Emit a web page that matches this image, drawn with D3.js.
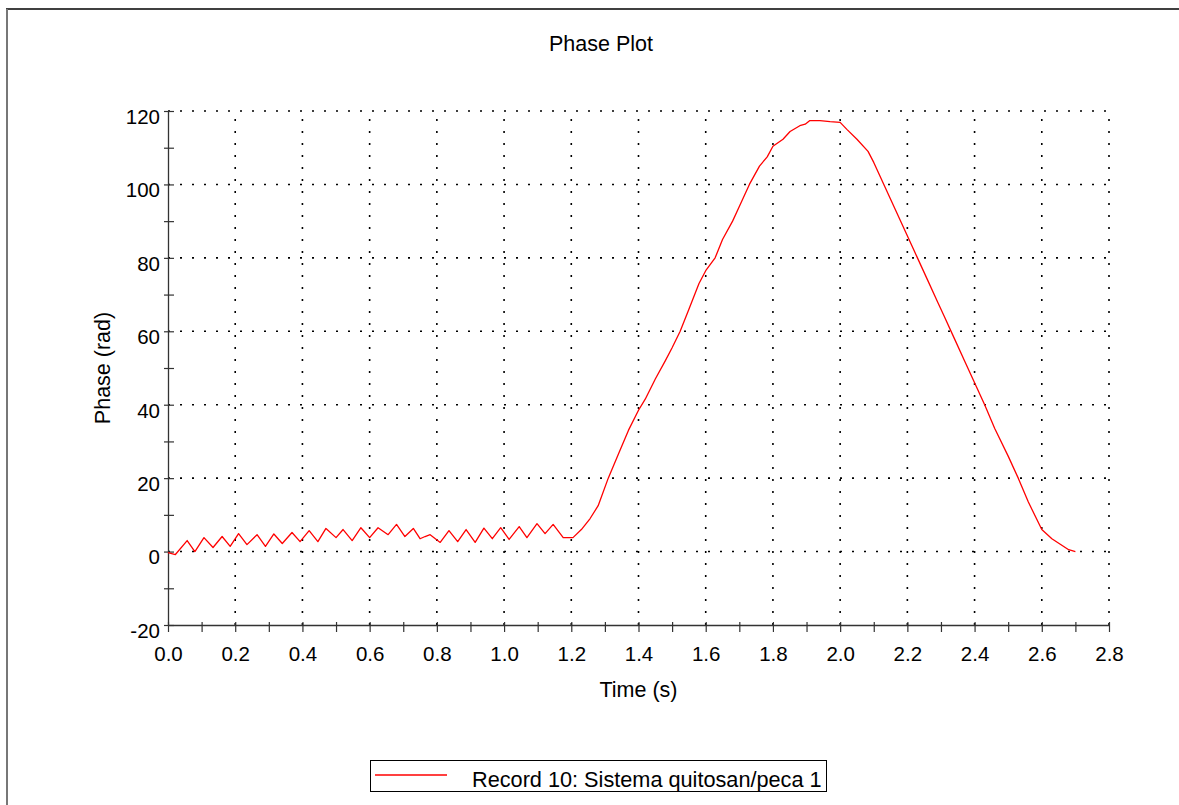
<!DOCTYPE html>
<html>
<head>
<meta charset="utf-8">
<script src="https://cdn.jsdelivr.net/npm/d3@7/dist/d3.min.js"></script>
<style>
  html, body { margin: 0; padding: 0; background: #fff; }
  svg { display: block; font-family: "Liberation Sans", Arial, sans-serif; }
</style>
</head>
<body>
<svg id="chart" width="1179" height="805"></svg>
<script>
// Phase record: time (s) and phase (rad)
const timeS = [
  0.000, 0.022, 0.057, 0.080, 0.107, 0.134, 0.161, 0.185, 0.210, 0.235,
  0.265, 0.290, 0.315, 0.340, 0.369, 0.393, 0.420, 0.446, 0.470, 0.500,
  0.521, 0.548, 0.574, 0.600, 0.625, 0.655, 0.680, 0.705, 0.730, 0.750,
  0.765, 0.780, 0.810, 0.836, 0.862, 0.887, 0.914, 0.940, 0.965, 0.990,
  1.015, 1.045, 1.068, 1.098, 1.122, 1.146, 1.176, 1.205, 1.230, 1.256,
  1.280, 1.310, 1.340, 1.370, 1.400, 1.420, 1.450, 1.480, 1.500, 1.524,
  1.550, 1.580, 1.600, 1.628, 1.650, 1.680, 1.700, 1.730, 1.760, 1.783,
  1.800, 1.830, 1.851, 1.880, 1.896, 1.910, 1.940, 1.970, 2.000, 2.020,
  2.050, 2.083, 2.100, 2.130, 2.160, 2.190, 2.230, 2.260, 2.290, 2.310,
  2.340, 2.370, 2.400, 2.430, 2.460, 2.500, 2.530, 2.560, 2.600, 2.630,
  2.655, 2.680, 2.700
];
const phaseRad = [
  -0.3, -0.8, 3.0, 0.0, 3.8, 1.1, 4.1, 1.4, 4.9, 1.9,
  4.6, 1.4, 4.8, 2.2, 5.2, 2.7, 5.7, 2.7, 6.3, 3.8,
  6.0, 3.0, 6.5, 3.8, 6.5, 4.6, 7.4, 4.1, 6.3, 3.5,
  4.1, 4.6, 2.5, 5.7, 2.7, 6.0, 2.5, 6.4, 3.5, 6.5,
  3.3, 6.8, 3.8, 7.6, 4.9, 7.4, 3.8, 3.8, 6.0, 9.0,
  12.5, 20.0, 26.5, 33.0, 38.5, 41.5, 47.0, 52.0, 55.5, 60.0,
  66.0, 73.0, 76.5, 80.0, 85.0, 90.0, 94.0, 100.0, 105.0, 107.5,
  110.4, 112.3, 114.4, 116.0, 116.4, 117.4, 117.4, 117.1, 116.9, 115.0,
  112.3, 109.0, 106.0, 100.0, 94.0, 88.0, 80.0, 74.0, 68.0, 64.0,
  58.0, 52.0, 46.0, 40.0, 33.5, 26.0, 20.0, 13.5, 6.0, 3.5,
  2.0, 0.5, 0.0
];

const xMajorTicks = [0.0, 0.2, 0.4, 0.6, 0.8, 1.0, 1.2, 1.4, 1.6, 1.8, 2.0, 2.2, 2.4, 2.6, 2.8];
const xMinorTicks = [0.1, 0.3, 0.5, 0.7, 0.9, 1.1, 1.3, 1.5, 1.7, 1.9, 2.1, 2.3, 2.5, 2.7];
const yMajorTicks = [-20, 0, 20, 40, 60, 80, 100, 120];
const yMinorTicks = [-10, 10, 30, 50, 70, 90, 110];

const titleText = "Phase Plot";
const xLabel = "Time (s)";
const yLabel = "Phase (rad)";
const legendLabel = "Record 10: Sistema quitosan/peca 1";

const svg = d3.select("#chart");
const W = 1179, H = 805;
const plot = { left: 168, right: 1109, top: 111, bottom: 625 };
const FONT = "Liberation Sans, Arial, sans-serif";

const x = d3.scaleLinear().domain([0, 2.8]).range([plot.left, plot.right]);
const y = d3.scaleLinear().domain([-20, 120]).range([plot.bottom, plot.top]);

// figure frame
svg.append("line").attr("x1", 6).attr("x2", W).attr("y1", 9).attr("y2", 9)
  .attr("stroke", "#000").attr("stroke-width", 1.5);
svg.append("line").attr("x1", 7).attr("x2", 7).attr("y1", 9).attr("y2", H)
  .attr("stroke", "#777").attr("stroke-width", 2);

// dotted grid
const grid = svg.append("g").attr("stroke", "#000").attr("stroke-width", 1.6)
  .attr("stroke-dasharray", "2,10");
grid.selectAll("line.h").data(yMajorTicks.filter(d => d > -20)).join("line")
  .attr("class", "h")
  .attr("x1", plot.left).attr("x2", plot.right)
  .attr("y1", d => y(d)).attr("y2", d => y(d));
grid.selectAll("line.v").data(xMajorTicks.filter(d => d > 0)).join("line")
  .attr("class", "v")
  .attr("x1", d => x(d)).attr("x2", d => x(d))
  .attr("y1", plot.bottom).attr("y2", plot.top);

// axes
const fmtX = d3.format(".1f");
const xAxis = d3.axisBottom(x)
  .tickValues(xMajorTicks.concat(xMinorTicks))
  .tickFormat(d => xMajorTicks.includes(d) ? fmtX(d) : "")
  .tickSizeOuter(0);
const gx = svg.append("g").attr("transform", `translate(0,${plot.bottom})`).call(xAxis);
gx.select(".domain").attr("stroke", "#333").attr("stroke-width", 1.3);
gx.selectAll(".tick line").attr("y1", -3).attr("y2", 7).attr("stroke", "#333").attr("stroke-width", 1.2);
gx.selectAll(".tick text").attr("y", 36).attr("dy", 0)
  .attr("font-size", "20.5px").attr("fill", "#000").attr("font-family", FONT);

const yAxis = d3.axisLeft(y)
  .tickValues(yMajorTicks.concat(yMinorTicks))
  .tickFormat(d => yMajorTicks.includes(d) ? String(d) : "")
  .tickSizeOuter(0);
const gy = svg.append("g").attr("transform", `translate(${plot.left},0)`).call(yAxis);
gy.select(".domain").attr("stroke", "#333").attr("stroke-width", 1.3);
gy.selectAll(".tick line").attr("x1", -4).attr("x2", 6).attr("stroke", "#333").attr("stroke-width", 1.2);
gy.selectAll(".tick text").attr("x", -8).attr("dy", "0.6em")
  .attr("font-size", "20.5px").attr("fill", "#000").attr("font-family", FONT);

// phase curve
const pts = timeS.map((t, i) => [t, phaseRad[i]]);
svg.append("path").datum(pts)
  .attr("fill", "none").attr("stroke", "#ff0000").attr("stroke-width", 1.3)
  .attr("stroke-linejoin", "round")
  .attr("d", d3.line().x(d => x(d[0])).y(d => y(d[1])));

// titles
svg.append("text").attr("x", 601).attr("y", 51).attr("text-anchor", "middle")
  .attr("font-size", "21.5px").text(titleText);
svg.append("text").attr("x", (plot.left + plot.right) / 2).attr("y", 697)
  .attr("text-anchor", "middle").attr("font-size", "21.5px").text(xLabel);
svg.append("text").attr("transform", `translate(110,${(plot.top + plot.bottom) / 2}) rotate(-90)`)
  .attr("text-anchor", "middle").attr("font-size", "21.5px").text(yLabel);

// legend
const lg = svg.append("g");
lg.append("rect").attr("x", 370.5).attr("y", 760.5).attr("width", 456).attr("height", 31)
  .attr("fill", "#fff").attr("stroke", "#000").attr("stroke-width", 1);
lg.append("line").attr("x1", 375).attr("x2", 447).attr("y1", 775).attr("y2", 775)
  .attr("stroke", "#ff0000").attr("stroke-width", 1.3);
lg.append("text").attr("x", 472).attr("y", 787).attr("font-size", "21.7px").text(legendLabel);
</script>
</body>
</html>
